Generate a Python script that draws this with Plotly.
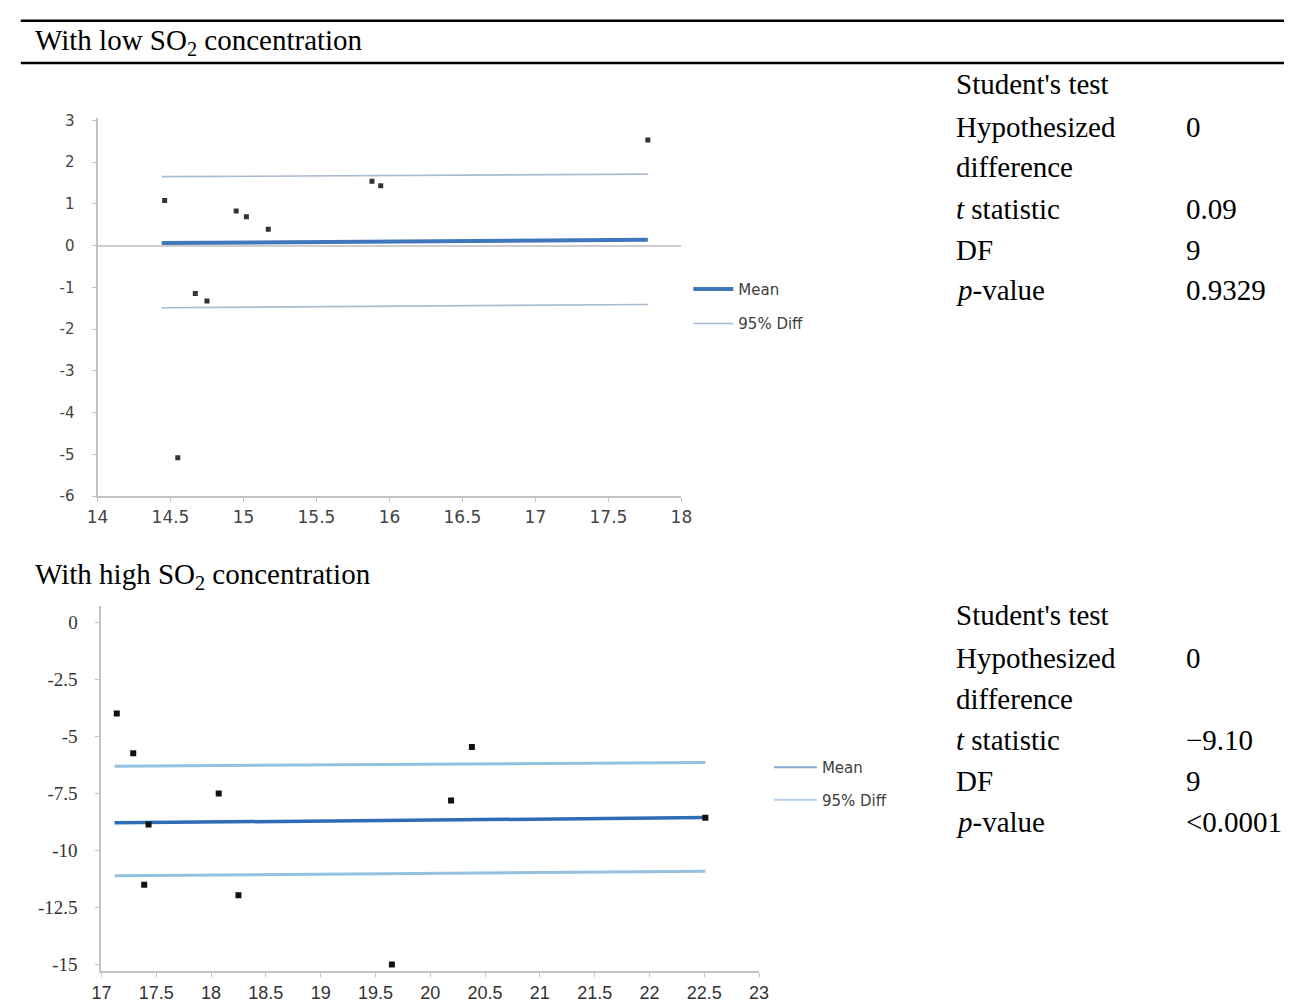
import plotly.graph_objects as go

W, H = 1295, 1007

# ---------------- data ----------------
# Low SO2 concentration (Bland-Altman style: mean vs difference)
low_x = [14.46, 14.67, 14.75, 14.55, 14.95, 15.02, 15.17, 15.88, 15.94, 17.77]
low_diff = [1.08, -1.15, -1.33, -5.08, 0.83, 0.69, 0.39, 1.54, 1.43, 2.53]
low_line_x = [14.44, 17.77]
low_mean = [0.06, 0.14]
low_upper = [1.65, 1.71]
low_lower = [-1.49, -1.41]
low_xticks = [14, 14.5, 15, 15.5, 16, 16.5, 17, 17.5, 18]
low_xtick_text = ["14", "14.5", "15", "15.5", "16", "16.5", "17", "17.5", "18"]
low_yticks = [3, 2, 1, 0, -1, -2, -3, -4, -5, -6]
low_ytick_text = ["3", "2", "1", "0", "-1", "-2", "-3", "-4", "-5", "-6"]

# High SO2 concentration
high_x = [17.14, 17.29, 17.43, 17.39, 18.07, 18.25, 19.65, 20.19, 20.38, 22.51]
high_diff = [-4.0, -5.74, -8.86, -11.5, -7.5, -11.96, -15.0, -7.81, -5.47, -8.57]
high_line_x = [17.12, 22.51]
high_mean = [-8.79, -8.56]
high_upper = [-6.31, -6.14]
high_lower = [-11.11, -10.91]
high_xticks = [17, 17.5, 18, 18.5, 19, 19.5, 20, 20.5, 21, 21.5, 22, 22.5, 23]
high_xtick_text = ["17", "17.5", "18", "18.5", "19", "19.5", "20", "20.5", "21",
                   "21.5", "22", "22.5", "23"]
high_yticks = [0, -2.5, -5, -7.5, -10, -12.5, -15]
high_ytick_text = ["0", "-2.5", "-5", "-7.5", "-10", "-12.5", "-15"]

# Student's test tables
stat_labels = ["Student's test", "Hypothesized", "difference", "<i>t</i> statistic",
               "DF", "<i>p</i>-value"]
low_stat_values = ["", "0", "", "0.09", "9", "0.9329"]
high_stat_values = ["", "0", "", "\u22129.10", "9", "&lt;0.0001"]

titles = ["With low SO<sub>2</sub> concentration", "With high SO<sub>2</sub> concentration"]
legend_names = ["Mean", "95% Diff"]

# ---------------- helpers ----------------
def px_x(p):
    return p / W

def px_y(p):
    return 1 - p / H

fig = go.Figure()

# ---- top chart ----
fig.add_trace(go.Scatter(x=low_line_x, y=low_mean, mode="lines", name=legend_names[0],
                         line=dict(color="#4076bc", width=4), legend="legend",
                         legendgroup="m1", xaxis="x", yaxis="y"))
fig.add_trace(go.Scatter(x=low_line_x, y=low_upper, mode="lines", name=legend_names[1],
                         line=dict(color="#a9bbd0", width=1.6), legend="legend",
                         legendgroup="d1", xaxis="x", yaxis="y"))
fig.add_trace(go.Scatter(x=low_line_x, y=low_lower, mode="lines", name=legend_names[1],
                         line=dict(color="#a9bbd0", width=1.6), showlegend=False,
                         legendgroup="d1", xaxis="x", yaxis="y"))
fig.add_trace(go.Scatter(x=low_x, y=low_diff, mode="markers", showlegend=False,
                         marker=dict(symbol="square", size=5, color="#333333"),
                         xaxis="x", yaxis="y"))

# ---- bottom chart ----
fig.add_trace(go.Scatter(x=high_line_x, y=high_upper, mode="lines", showlegend=False,
                         line=dict(color="#94c1e2", width=3), xaxis="x2", yaxis="y2"))
fig.add_trace(go.Scatter(x=high_line_x, y=high_lower, mode="lines", showlegend=False,
                         line=dict(color="#94c1e2", width=3), xaxis="x2", yaxis="y2"))
fig.add_trace(go.Scatter(x=high_line_x, y=high_mean, mode="lines", showlegend=False,
                         line=dict(color="#2e6db6", width=3.5), xaxis="x2", yaxis="y2"))
fig.add_trace(go.Scatter(x=high_x, y=high_diff, mode="markers", showlegend=False,
                         marker=dict(symbol="square", size=6, color="#111111"),
                         xaxis="x2", yaxis="y2"))
# legend entries of the bottom chart (styled as in the original legend)
fig.add_trace(go.Scatter(x=[None], y=[None], mode="lines", name=legend_names[0],
                         line=dict(color="#86acd3", width=2), legend="legend2",
                         legendgroup="m2", xaxis="x2", yaxis="y2"))
fig.add_trace(go.Scatter(x=[None], y=[None], mode="lines", name=legend_names[1],
                         line=dict(color="#b5d2ea", width=2), legend="legend2",
                         legendgroup="d2", xaxis="x2", yaxis="y2"))

axis_common = dict(showgrid=False, showline=True, linecolor="#c3c3c3", linewidth=2,
                   ticks="outside", ticklen=4, tickcolor="#c3c3c3", tickmode="array")

fig.update_layout(
    width=W, height=H,
    margin=dict(l=0, r=0, t=0, b=0),
    paper_bgcolor="white", plot_bgcolor="white",
    xaxis=dict(domain=[px_x(88), px_x(682)], range=[14, 18], anchor="y",
               tickvals=low_xticks, ticktext=low_xtick_text, zeroline=False,
               tickfont=dict(family="DejaVu Sans", size=17, color="#444444"),
               **axis_common),
    yaxis=dict(domain=[px_y(497), px_y(113)], range=[-6, 3.05], anchor="x",
               tickvals=low_yticks, ticktext=low_ytick_text,
               zeroline=True, zerolinecolor="#cccccc", zerolinewidth=2,
               ticklabelstandoff=14,
               tickfont=dict(family="DejaVu Sans", size=15, color="#444444"),
               **axis_common),
    xaxis2=dict(domain=[px_x(92), px_x(761)], range=[17, 23], anchor="y2",
                tickvals=high_xticks, ticktext=high_xtick_text, zeroline=False,
                tickfont=dict(family="Liberation Sans", size=18, color="#333333"),
                **axis_common),
    yaxis2=dict(domain=[px_y(980), px_y(609)], range=[-15.3, 0.7], anchor="x2",
                tickvals=high_yticks, ticktext=high_ytick_text, zeroline=False,
                ticklabelstandoff=14,
                tickfont=dict(family="Liberation Sans Narrow", size=19, color="#333333"),
                **axis_common),
    legend=dict(x=px_x(689), y=px_y(270), xanchor="left", yanchor="top",
                font=dict(family="DejaVu Sans", size=15, color="#404040"),
                bgcolor="rgba(0,0,0,0)", tracegroupgap=12, itemwidth=40),
    legend2=dict(x=px_x(771), y=px_y(756), xanchor="left", yanchor="top",
                 font=dict(family="DejaVu Sans", size=15, color="#404040"),
                 bgcolor="rgba(0,0,0,0)", tracegroupgap=10, itemwidth=43),
    showlegend=True,
)

# horizontal rules of the table header
fig.add_shape(type="line", xref="paper", yref="paper", x0=px_x(10), x1=1,
              y0=px_y(14), y1=px_y(14), line=dict(color="black", width=2.5))
fig.add_shape(type="line", xref="paper", yref="paper", x0=px_x(10), x1=1,
              y0=px_y(57), y1=px_y(57), line=dict(color="black", width=2.5))

serif = dict(family="Liberation Serif", size=29, color="black")

# section titles
for t, yc in zip(titles, [36, 578]):
    fig.add_annotation(text=t, xref="paper", yref="paper", x=px_x(22), y=px_y(yc),
                       xanchor="left", yanchor="middle", showarrow=False, font=serif)

# stats tables
row_y_top = [78, 122, 163, 205, 247, 288]
row_y_bot = [618, 662, 703, 745, 787, 828]
for vals, rows in [(low_stat_values, row_y_top), (high_stat_values, row_y_bot)]:
    for lab, val, yc in zip(stat_labels, vals, rows):
        fig.add_annotation(text=lab, xref="paper", yref="paper", x=px_x(959), y=px_y(yc),
                           xanchor="left", yanchor="middle", showarrow=False, font=serif)
        if val:
            fig.add_annotation(text=val, xref="paper", yref="paper", x=px_x(1193),
                               y=px_y(yc), xanchor="left", yanchor="middle",
                               showarrow=False, font=serif)

fig.write_html("out.html")
